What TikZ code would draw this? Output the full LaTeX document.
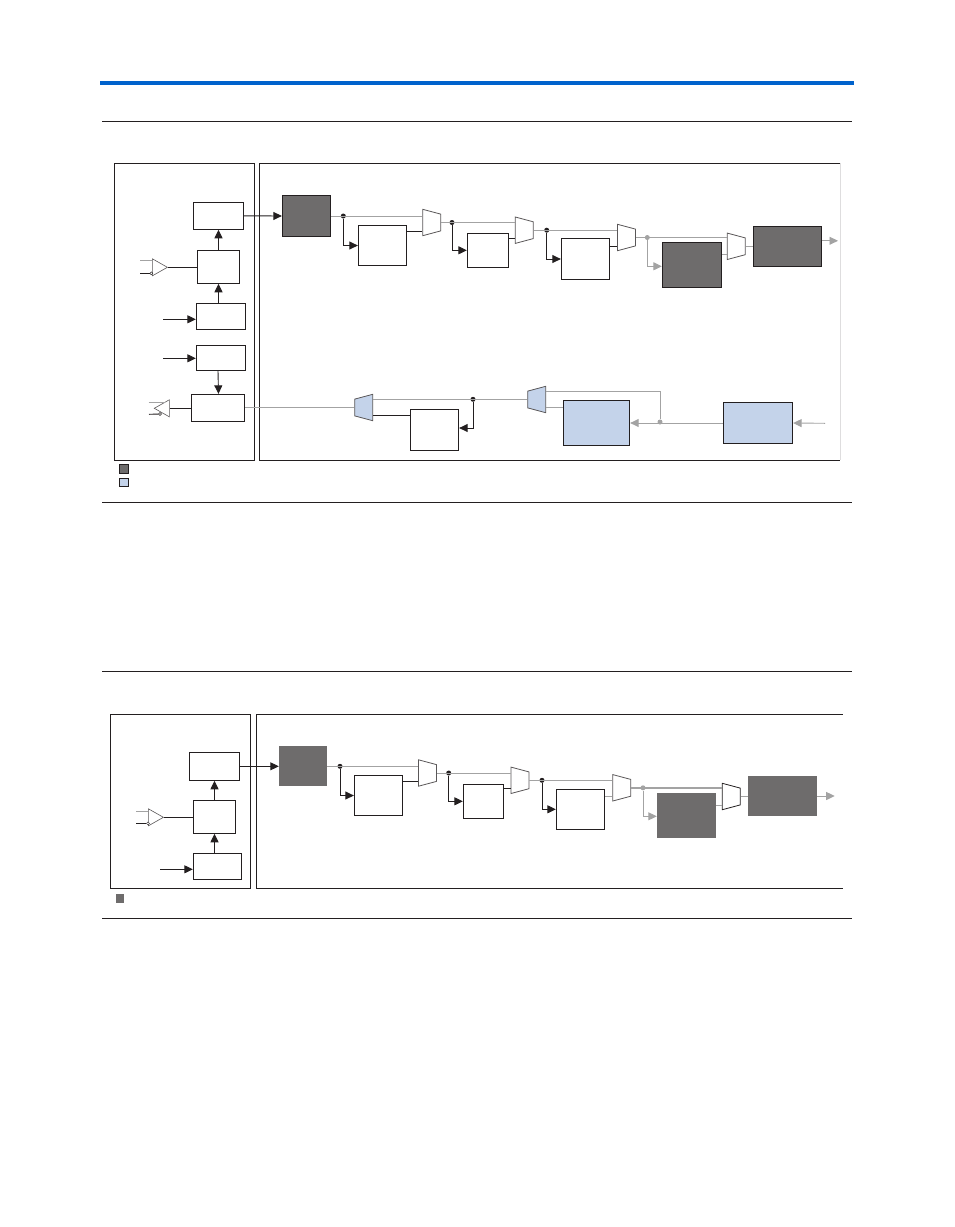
\documentclass[tikz,border=0pt]{standalone}
\usepackage{xcolor}
\usepackage{tikz}
\usetikzlibrary{shapes.geometric,arrows.meta,calc}
\definecolor{lineblack}{RGB}{35,31,32}
\definecolor{linegray}{RGB}{163,163,163}
\definecolor{coredark}{RGB}{110,108,108}
\definecolor{coreblue}{RGB}{196,211,234}
\definecolor{barblue}{RGB}{0,98,204}

\begin{document}
\begin{tikzpicture}[
x=1pt, y=-1pt,
blk/.style={draw=lineblack, fill=white, line width=0.9pt, inner sep=0pt},
darkblk/.style={blk, fill=coredark},
flatblk/.style={fill=coredark, inner sep=0pt},
blueblk/.style={blk, fill=coreblue},
frame/.style={draw=lineblack, line width=0.9pt},
mux/.style={trapezium, trapezium stretches=true, trapezium left angle=74, trapezium right angle=74,
draw=lineblack!75, fill=white, line width=0.8pt, inner sep=1pt, rotate=-90,
minimum width=26.4pt, minimum height=18pt},
bluemux/.style={mux, fill=coreblue, rotate=180},
blackmux/.style={mux, draw=lineblack},
buf/.style={isosceles triangle, isosceles triangle apex angle=60, isosceles triangle stretches=true,
draw=lineblack!75, fill=white, line width=0.6pt, inner sep=1pt, minimum width=17pt, minimum height=15pt, anchor=apex},
dot/.style={circle, fill=lineblack, inner sep=0pt, minimum size=5pt},
gdot/.style={dot, fill=linegray},
bub/.style={circle, draw=lineblack, fill=white, line width=0.4pt, inner sep=0pt, minimum size=3pt},
wire/.style={draw=lineblack, line width=0.9pt},
gwire/.style={draw=linegray, line width=0.9pt},
arrow/.style={wire, -{Triangle[length=8.5pt,width=8pt]}},
garrow/.style={gwire, -{Triangle[length=8.5pt,width=8pt]}},
rule/.style={draw=lineblack, line width=0.9pt}
]
\useasboundingbox (0,0) rectangle (954,1227);

\fill[barblue] (100,81) rectangle (854,85);

% rules
\coordinate (r1a) at (102,121.5); \coordinate (r1b) at (852,121.5);
\coordinate (r2a) at (102,502.5); \coordinate (r2b) at (852,502.5);
\coordinate (r3a) at (102,671.5); \coordinate (r3b) at (852,671.5);
\coordinate (r4a) at (102,918.5); \coordinate (r4b) at (852,918.5);
\draw[rule] (r1a) -- (r1b);
\draw[rule] (r2a) -- (r2b);
\draw[rule] (r3a) -- (r3b);
\draw[rule] (r4a) -- (r4b);

% first figure
\draw[frame] (114.4,163.3) rectangle (254.4,460.3);
\draw[frame] (840,163.3) -- (259.4,163.3) -- (259.4,460.3) -- (840,460.3);
\draw[draw=lineblack!15, line width=0.7pt] (840,163.3) -- (840,460.3);

\node[blk, minimum width=50.4pt, minimum height=27pt] (pll) at (218.5,215.8) {};
\node[blk, minimum width=42.4pt, minimum height=33pt] (inbox) at (218.5,266.8) {};
\node[blk, minimum width=49.4pt, minimum height=26pt] (ctl) at (221,316.3) {};
\node[blk, minimum width=49.4pt, minimum height=25pt] (ctlb) at (221,357.8) {};
\node[blk, minimum width=53.4pt, minimum height=27pt] (outbox) at (218,407.8) {};

\node[darkblk, minimum width=48.4pt, minimum height=41.4pt] (core) at (306.5,216) {};
\node[blk, minimum width=48pt, minimum height=40.4pt] (regA) at (382.3,245.5) {};
\node[mux] (muxA) at (431.7,222.5) {};
\node[blk, minimum width=41.4pt, minimum height=34pt] (regB) at (488,250.3) {};
\node[mux] (muxB) at (524.3,230.2) {};
\node[blk, minimum width=48.4pt, minimum height=41.4pt] (regC) at (585.5,259) {};
\node[mux] (muxC) at (626.5,237.5) {};
\node[darkblk, minimum width=59.4pt, minimum height=45pt] (coreB) at (692,264.8) {};
\node[mux] (muxD) at (736.3,246.3) {};
\node[darkblk, minimum width=68.4pt, minimum height=40.4pt] (coreC) at (787.5,246.5) {};
\coordinate (outA) at (838,240.8);

\node[bluemux] (muxE) at (363.7,407.5) {};
\node[blk, minimum width=48.4pt, minimum height=41.4pt] (regD) at (434.5,430) {};
\node[bluemux] (muxF) at (536.7,399.5) {};
\node[blueblk, minimum width=66.4pt, minimum height=45.4pt] (blueA) at (596.5,423) {};
\node[blueblk, minimum width=69.4pt, minimum height=41.4pt] (blueB) at (758,423) {};
\coordinate (inA) at (825,423.3);

\node[dot] (dA) at (343.3,216) {};
\node[dot] (dB) at (452,222.5) {};
\node[dot] (dC) at (546.7,230.2) {};
\node[gdot] (dD) at (647.3,237.5) {};
\node[dot] (dE) at (473,399.3) {};
\node[gdot] (dF) at (660,422) {};

\draw[arrow] (pll.east) -- (core.west);
\draw[arrow] (inbox.north) -- (pll.south -| inbox.north);
\draw[arrow] (ctl.north -| inbox.south) -- (inbox.south);
\draw[arrow] (ctlb.south -| outbox.north) -- (outbox.north -| inbox.south);

\coordinate (ctlIn) at (163,319.3);
\coordinate (ctlbIn) at (163,358.3);
\draw[arrow] (ctlIn) -- (ctlIn -| ctl.west);
\draw[arrow] (ctlbIn) -- (ctlbIn -| ctlb.west);

% input buffer
\node[buf] (bufA) at (168,267.3) {};
\coordinate (bufAg) at (140,260.3);
\coordinate (bufAk) at (140,273.3);
\node[bub] (bubA) at (151.3,273.3) {};
\draw[gwire] (bufAg) -- (bufAg -| bufA.west);
\draw[wire] (bufAk) -- (bubA);
\draw[wire] (bufA.apex) -- (bufA.apex -| inbox.west);

% output buffer
\node[buf, shape border rotate=180] (bufB) at (153.7,408.3) {};
\coordinate (bufBg) at (148.5,402);
\coordinate (bufBk) at (149,414.3);
\node[bub] (bubB) at (160,414) {};
\draw[gwire, shorten >=5pt] (bufBg) -- (bufBg -| bufB.east);
\draw[wire] (bufBk) -- (bubB);
\draw[wire] (bufB.east) -- (bufB.east -| outbox.west);

\draw[gwire] (core.east) -- (core.east -| muxA.south);
\draw[arrow] (dA) |- (regA.west);
\draw[wire] (regA.east |- 0,231) -- (muxA.south |- 0,231);
\draw[gwire] (muxA.north) -- (muxA.north -| muxB.south);
\draw[arrow] (dB) |- (regB.west);
\draw[wire] (regB.east |- 0,238.3) -- (muxB.south |- 0,238.3);
\draw[gwire] (muxB.north) -- (muxB.north -| muxC.south);
\draw[arrow] (dC) |- (regC.west);
\draw[wire] (regC.east |- 0,246.3) -- (muxC.south |- 0,246.3);
\draw[gwire] (muxC.north) -- (muxC.north -| muxD.south);
\draw[garrow] (dD) |- (coreB.west |- 0,266.3);
\draw[gwire] (coreB.east |- 0,254.3) -- (muxD.south |- 0,254.3);
\draw[gwire] (muxD.north) -- (muxD.north -| coreC.west);
\draw[garrow] (coreC.east |- outA) -- (outA);

\draw[gwire] (outbox.east |- muxE.north) -- (muxE.north);
\draw[gwire] (muxE.south |- dE) -- (muxF.north |- dE);
\draw[arrow] (dE) |- (regD.east |- 0,428);
\draw[wire] (regD.west |- 0,415.3) -- (muxE.south |- 0,415.3);
\draw[gwire] (blueA.west |- 0,407.3) -- (muxF.south |- 0,407.3);
\draw[gwire] (dF) -- (dF |- 0,391.3) -- (muxF.south |- 0,391.3);
\draw[garrow] (blueB.west) -- (blueA.east);
\draw[garrow] (inA) -- (blueB.east);

% legend
\node[darkblk, minimum size=9.4pt] (keyA) at (124,469) {};
\node[blueblk, minimum size=8.6pt] (keyB) at (124,482.3) {};

% second figure
\draw[frame] (110.3,714.3) rectangle (250.3,888.3);
\draw[frame] (842.7,714.3) -- (256.3,714.3) -- (256.3,888.3) -- (842.7,888.3);

\node[blk, minimum width=50.4pt, minimum height=28pt] (pllS) at (214.5,766.3) {};
\node[blk, minimum width=42.4pt, minimum height=33pt] (inboxS) at (214.5,816.8) {};
\node[blk, minimum width=48.4pt, minimum height=26pt] (ctlS) at (217.5,866.3) {};

\node[flatblk, minimum width=48pt, minimum height=40pt] (coreS) at (303,766) {};
\node[blk, minimum width=48.4pt, minimum height=40.4pt] (regAS) at (378.5,795.5) {};
\node[mux] (muxAS) at (427.5,773) {};
\node[blk, minimum width=40.4pt, minimum height=34pt] (regBS) at (483.5,801.3) {};
\node[mux] (muxBS) at (520,780.3) {};
\node[blk, minimum width=48.4pt, minimum height=40pt] (regCS) at (580.5,809.3) {};
\node[mux] (muxCS) at (621.8,787.8) {};
\node[flatblk, minimum width=59pt, minimum height=44.7pt] (coreBS) at (686.5,815.3) {};
\node[blackmux] (muxDS) at (731.3,796.5) {};
\node[flatblk, minimum width=69pt, minimum height=40pt] (coreCS) at (782.5,796) {};
\coordinate (outS) at (834.7,796);

\node[dot] (dAS) at (340,766.3) {};
\node[dot] (dBS) at (448.7,773) {};
\node[dot] (dCS) at (542,780.3) {};
\node[gdot] (dDS) at (643,787.8) {};

\draw[arrow] (pllS.east) -- (pllS.east -| coreS.west);
\draw[arrow] (inboxS.north) -- (pllS.south -| inboxS.north);
\draw[arrow] (ctlS.north -| inboxS.south) -- (inboxS.south);
\coordinate (ctlInS) at (160,869.3);
\draw[arrow] (ctlInS) -- (ctlInS -| ctlS.west);

\node[buf] (bufS) at (164,817.3) {};
\coordinate (bufSg) at (136,811.3);
\coordinate (bufSk) at (136,823.3);
\node[bub] (bubS) at (148,823.3) {};
\draw[gwire] (bufSg) -- (bufSg -| bufS.west);
\draw[wire] (bufSk) -- (bubS);
\draw[wire] (bufS.apex) -- (bufS.apex -| inboxS.west);

\draw[gwire] (pllS.east -| coreS.east) -- (pllS.east -| muxAS.south);
\draw[arrow] (dAS) |- (regAS.west);
\draw[wire] (regAS.east |- 0,781) -- (muxAS.south |- 0,781);
\draw[gwire] (muxAS.north) -- (muxAS.north -| muxBS.south);
\draw[arrow] (dBS) |- (regBS.west);
\draw[wire] (regBS.east |- 0,788.3) -- (muxBS.south |- 0,788.3);
\draw[gwire] (muxBS.north) -- (muxBS.north -| muxCS.south);
\draw[arrow] (dCS) |- (regCS.west);
\draw[gwire] (regCS.east |- 0,796.3) -- (muxCS.south |- 0,796.3);
\draw[gwire, line width=1.6pt] (muxCS.north) -- (muxCS.north -| muxDS.south);
\draw[garrow] (dDS) |- (coreBS.west |- 0,816.3);
\draw[gwire] (coreBS.east |- 0,805) -- (muxDS.south |- 0,805);
\draw[gwire] (muxDS.north) -- (muxDS.north -| coreCS.west);
\draw[garrow] (coreCS.east) -- (outS);

\node[flatblk, minimum size=8.4pt] (keyS) at (120,898.6) {};
\end{tikzpicture}
\end{document}
